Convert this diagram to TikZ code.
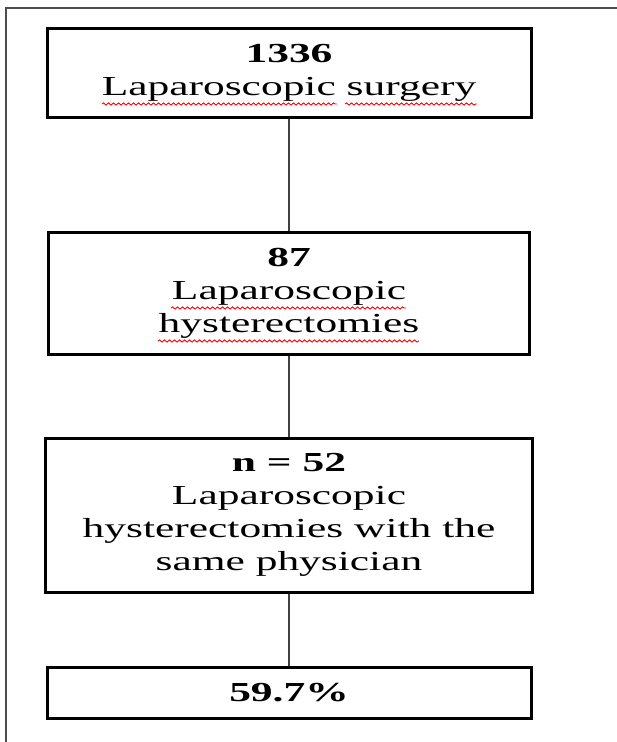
\documentclass[tikz,border=0pt]{standalone}
\usepackage{fontspec}
\setmainfont{Liberation Serif}
\newfontfamily\widefont[FakeStretch=1.58]{Liberation Serif}
\usetikzlibrary{decorations.pathmorphing}

\tikzset{
  flowbox/.style={draw=black, line width=3pt, align=center, inner sep=0pt,
    font=\widefont\fontsize{27.5}{33}\selectfont},
  link/.style={draw=black!75, line width=1.3pt},
  spellwave/.style={draw=red, line width=0.9pt,
    decorate, decoration={snake, segment length=5pt, amplitude=1.1pt}}
}

\begin{document}
\begin{tikzpicture}[x=1pt, y=1pt]
\useasboundingbox (0,0) rectangle (617,-742);

% frame
\draw[draw=black!70, line width=1.5pt] (6,-742) -- (6,-8) -- (617,-8);

\node[flowbox, minimum width=484, minimum height=89] (surg) at (289,-72.5)
  {\textbf{1336}\\Laparoscopic surgery};
\node[flowbox, minimum width=481, minimum height=122] (hyst) at (289,-293)
  {\textbf{87}\\Laparoscopic\\hysterectomies};
\node[flowbox, minimum width=487, minimum height=154] (same) at (289,-515)
  {\textbf{n = 52}\\Laparoscopic\\hysterectomies with the\\same physician};
\node[flowbox, minimum width=484, minimum height=51] (rate) at (289,-692.5)
  {\textbf{59.7\%}};

\draw[link] (surg.south) -- (hyst.north);
\draw[link] (hyst.south) -- (same.north);
\draw[link] (same.south) -- (rate.north);

% spell check marks
\draw[spellwave] (102,-104) -- (337,-104);
\draw[spellwave] (345,-104) -- (477,-104);
\draw[spellwave] (171,-308) -- (406,-308);
\draw[spellwave] (158,-341) -- (419,-341);

\end{tikzpicture}
\end{document}
